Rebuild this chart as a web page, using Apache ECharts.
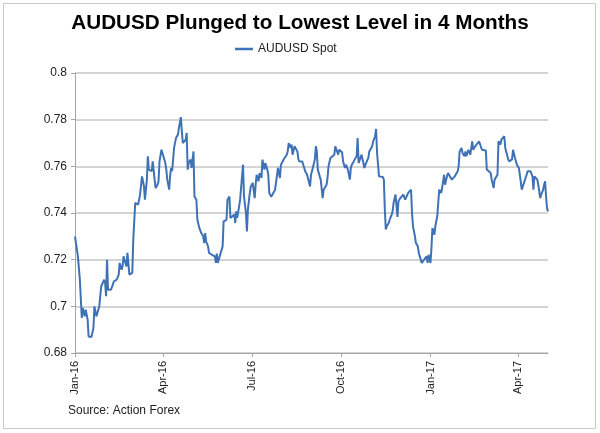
<!DOCTYPE html>
<html>
<head>
<meta charset="utf-8">
<script src="https://cdn.jsdelivr.net/npm/echarts@6/dist/echarts.min.js"></script>
<style>
html,body{margin:0;padding:0;background:#fff;}
#c{width:600px;height:433px;}
</style>
</head>
<body>
<div id="c"></div>
<script>
var dates = [
'2016-01-01','2016-01-04','2016-01-06','2016-01-08','2016-01-09','2016-01-11','2016-01-12','2016-01-14','2016-01-15','2016-01-17',
'2016-01-18','2016-01-20','2016-01-21','2016-01-23','2016-01-24','2016-01-26','2016-01-28','2016-01-29','2016-01-31',
'2016-02-01','2016-02-02','2016-02-03','2016-02-04','2016-02-06','2016-02-07','2016-02-09','2016-02-10','2016-02-11','2016-02-13',
'2016-02-14','2016-02-15','2016-02-16','2016-02-18','2016-02-19','2016-02-20','2016-02-22','2016-02-23','2016-02-24','2016-02-25',
'2016-02-26','2016-02-28','2016-02-29',
'2016-03-01','2016-03-03','2016-03-05','2016-03-06','2016-03-08','2016-03-10','2016-03-12','2016-03-13','2016-03-15','2016-03-16',
'2016-03-17','2016-03-19','2016-03-20','2016-03-21','2016-03-23','2016-03-24','2016-03-26','2016-03-27','2016-03-28','2016-03-30','2016-03-31',
'2016-04-01','2016-04-03','2016-04-04','2016-04-05','2016-04-07','2016-04-08','2016-04-09','2016-04-10','2016-04-12','2016-04-13',
'2016-04-14','2016-04-16','2016-04-17','2016-04-19','2016-04-20','2016-04-21','2016-04-23','2016-04-24','2016-04-25','2016-04-26',
'2016-04-27','2016-04-29','2016-04-30',
'2016-05-02','2016-05-03','2016-05-04','2016-05-05','2016-05-06','2016-05-08','2016-05-09','2016-05-10','2016-05-12','2016-05-13',
'2016-05-14','2016-05-15','2016-05-17','2016-05-18','2016-05-20','2016-05-21','2016-05-24','2016-05-25','2016-05-26','2016-05-27',
'2016-05-29','2016-05-30',
'2016-06-01','2016-06-02','2016-06-05','2016-06-06','2016-06-08','2016-06-09','2016-06-10','2016-06-13','2016-06-14','2016-06-15',
'2016-06-16','2016-06-18','2016-06-19','2016-06-21','2016-06-22','2016-06-23','2016-06-25','2016-06-26','2016-06-27','2016-06-29','2016-06-30',
'2016-07-02','2016-07-03','2016-07-04','2016-07-05','2016-07-06','2016-07-08','2016-07-09','2016-07-11','2016-07-12','2016-07-14',
'2016-07-15','2016-07-17','2016-07-18','2016-07-19','2016-07-21','2016-07-22','2016-07-23','2016-07-25','2016-07-26','2016-07-28',
'2016-07-30','2016-07-31',
'2016-08-01','2016-08-03','2016-08-04','2016-08-06','2016-08-07','2016-08-08','2016-08-10','2016-08-11','2016-08-12','2016-08-14',
'2016-08-15','2016-08-17','2016-08-18','2016-08-19','2016-08-22','2016-08-23','2016-08-25','2016-08-26','2016-08-27','2016-08-29',
'2016-08-30','2016-08-31',
'2016-09-01','2016-09-04','2016-09-05','2016-09-06','2016-09-07','2016-09-09','2016-09-10','2016-09-12','2016-09-13','2016-09-14',
'2016-09-16','2016-09-17','2016-09-18','2016-09-20','2016-09-21','2016-09-24','2016-09-25','2016-09-27','2016-09-28','2016-09-29',
'2016-10-01','2016-10-02','2016-10-03','2016-10-05','2016-10-06','2016-10-08','2016-10-10','2016-10-11','2016-10-12','2016-10-14',
'2016-10-15','2016-10-17','2016-10-18','2016-10-19','2016-10-21','2016-10-22','2016-10-25','2016-10-26','2016-10-29','2016-10-30',
'2016-11-01','2016-11-02','2016-11-03','2016-11-05','2016-11-06','2016-11-07','2016-11-09','2016-11-10','2016-11-13','2016-11-14',
'2016-11-15','2016-11-16','2016-11-17','2016-11-19','2016-11-20','2016-11-22','2016-11-23','2016-11-24','2016-11-26','2016-11-27',
'2016-11-28','2016-11-29',
'2016-12-01','2016-12-02','2016-12-04','2016-12-06','2016-12-09','2016-12-10','2016-12-12','2016-12-13','2016-12-14','2016-12-16',
'2016-12-17','2016-12-19','2016-12-20','2016-12-21','2016-12-23','2016-12-25','2016-12-28','2016-12-29','2016-12-30',
'2017-01-01','2017-01-02','2017-01-03','2017-01-05','2017-01-06','2017-01-08','2017-01-09','2017-01-10','2017-01-12','2017-01-13',
'2017-01-15','2017-01-16','2017-01-18','2017-01-19','2017-01-20','2017-01-23','2017-01-25','2017-01-26','2017-01-27','2017-01-29',
'2017-01-30','2017-01-31',
'2017-02-02','2017-02-03','2017-02-05','2017-02-06','2017-02-07','2017-02-09','2017-02-11','2017-02-13','2017-02-14','2017-02-16',
'2017-02-18','2017-02-20','2017-02-22','2017-02-23','2017-02-25','2017-02-27','2017-02-28',
'2017-03-01','2017-03-04','2017-03-05','2017-03-07','2017-03-08','2017-03-10','2017-03-11','2017-03-12','2017-03-14','2017-03-15',
'2017-03-18','2017-03-19','2017-03-21','2017-03-22','2017-03-23','2017-03-26','2017-03-27','2017-03-29','2017-03-30','2017-03-31',
'2017-04-02','2017-04-03','2017-04-05','2017-04-06','2017-04-07','2017-04-10','2017-04-11','2017-04-13','2017-04-14','2017-04-16',
'2017-04-17','2017-04-18','2017-04-20','2017-04-21','2017-04-22','2017-04-24','2017-04-25','2017-04-27','2017-04-28','2017-04-29',
'2017-04-30','2017-05-01','2017-05-02'
];
var spot = [
0.7300,0.7214,0.7114,0.6950,0.6993,0.6957,0.6986,0.6943,0.6871,0.6864,
0.6869,0.6907,0.7000,0.6957,0.6957,0.7000,0.7086,0.7086,0.7114,
0.7100,0.7043,0.7200,0.7071,0.7079,0.7071,0.7093,0.7107,0.7107,0.7114,
0.7107,0.7136,0.7186,0.7157,0.7171,0.7214,0.7221,0.7171,0.7229,0.7233,
0.7136,0.7140,0.7143,
0.7286,0.7443,0.7450,0.7436,0.7479,0.7557,0.7514,0.7457,0.7543,0.7643,
0.7586,0.7593,0.7579,0.7621,0.7543,0.7507,0.7521,0.7536,0.7621,0.7671,0.7664,
0.7643,0.7614,0.7586,0.7543,0.7500,0.7564,0.7593,0.7579,0.7679,0.7686,
0.7721,0.7736,0.7764,0.7811,0.7750,0.7700,0.7700,0.7714,0.7743,0.7586,
0.7614,0.7629,0.7593,
0.7664,0.7471,0.7464,0.7457,0.7371,0.7336,0.7343,0.7314,0.7300,0.7271,
0.7314,0.7279,0.7257,0.7229,0.7226,0.7221,0.7214,0.7186,0.7226,0.7186,
0.7183,0.7229,
0.7257,0.7364,0.7371,0.7457,0.7471,0.7379,0.7386,0.7393,0.7357,0.7407,
0.7379,0.7429,0.7457,0.7457,0.7607,0.7471,0.7400,0.7321,0.7414,0.7486,0.7514,
0.7529,0.7536,0.7464,0.7521,0.7564,0.7536,0.7571,0.7550,0.7629,0.7586,
0.7614,0.7586,0.7564,0.7486,0.7469,0.7464,0.7469,0.7500,0.7500,0.7593,
0.7550,0.7607,
0.7614,0.7630,0.7636,0.7650,0.7664,0.7700,0.7679,0.7693,0.7650,0.7686,
0.7693,0.7664,0.7630,0.7621,0.7621,0.7614,0.7579,0.7571,0.7564,0.7557,
0.7514,0.7564,
0.7579,0.7630,0.7686,0.7664,0.7586,0.7557,0.7543,0.7464,0.7500,0.7493,
0.7521,0.7550,0.7600,0.7636,0.7630,0.7650,0.7686,0.7693,0.7650,0.7671,
0.7664,0.7660,0.7621,0.7593,0.7607,0.7586,0.7543,0.7593,0.7607,0.7621,
0.7630,0.7643,0.7721,0.7614,0.7621,0.7650,0.7593,0.7607,0.7636,0.7664,
0.7671,0.7686,0.7707,0.7729,0.7760,0.7657,0.7557,0.7553,0.7554,0.7543,
0.7414,0.7329,0.7343,0.7357,0.7371,0.7393,0.7407,0.7443,0.7479,0.7471,
0.7383,0.7450,
0.7464,0.7457,0.7479,0.7457,0.7486,0.7493,0.7500,0.7400,0.7343,0.7300,
0.7271,0.7257,0.7229,0.7214,0.7186,0.7186,0.7214,0.7186,0.7221,
0.7186,0.7250,0.7336,0.7307,0.7343,0.7386,0.7443,0.7500,0.7486,0.7507,
0.7564,0.7521,0.7557,0.7571,0.7579,0.7543,0.7550,0.7557,0.7564,0.7579,
0.7600,0.7664,
0.7679,0.7657,0.7643,0.7664,0.7643,0.7671,0.7650,0.7707,0.7671,0.7686,
0.7693,0.7707,0.7707,0.7671,0.7671,0.7668,0.7586,
0.7579,0.7571,0.7543,0.7507,0.7543,0.7550,0.7564,0.7707,0.7693,0.7714,
0.7729,0.7679,0.7671,0.7630,0.7621,0.7630,0.7671,0.7636,0.7630,0.7607,
0.7593,0.7564,0.7500,0.7500,0.7503,0.7564,0.7579,0.7586,0.7579,0.7557,
0.7500,0.7557,0.7564,0.7543,0.7521,0.7464,0.7479,0.7500,0.7521,0.7536,
0.7471,0.7421,0.7407
];
var tickDates = ['2016-01-01','2016-04-01','2016-07-01','2016-10-01','2017-01-01','2017-04-01'];
var tickLabels = ['Jan-16','Apr-16','Jul-16','Oct-16','Jan-17','Apr-17'];
var axisStart = '2016-01-01';
var axisEnd = '2017-05-02';

function ts(s){ var p = s.split('-'); return Date.UTC(+p[0], +p[1]-1, +p[2]); }
var tickTs = tickDates.map(ts);
var seriesData = dates.map(function(d, i){ return [ts(d), spot[i]]; });

var chart = echarts.init(document.getElementById('c'), null, {renderer:'canvas'});
var font = 'Liberation Sans, Arial, sans-serif';
chart.setOption({
  animation: false,
  backgroundColor: '#fff',
  title: {
    text: 'AUDUSD Plunged to Lowest Level in 4 Months',
    left: 'center', top: 8,
    textStyle: {fontFamily: font, fontSize: 20.7, fontWeight: 'bold', color: '#000'}
  },
  legend: {
    data: ['AUDUSD Spot'], left: 230, top: 38,
    icon: 'rect', itemWidth: 18, itemHeight: 2.5, itemGap: 4,
    textStyle: {fontFamily: font, fontSize: 12, color: '#222'}
  },
  grid: {left: 75, right: 52, top: 73, bottom: 80, containLabel: false},
  xAxis: {
    type: 'value',
    min: ts(axisStart), max: ts(axisEnd),
    axisLine: {show: true, lineStyle: {color: '#a6a6a6', width: 1}},
    axisTick: {show: true, customValues: tickTs, length: 4, lineStyle: {color: '#a6a6a6'}},
    splitLine: {show: false},
    axisLabel: {
      customValues: tickTs, rotate: 90, margin: 8,
      fontFamily: font, fontSize: 11, color: '#222',
      formatter: function(v){ var i = tickTs.indexOf(v); return i >= 0 ? tickLabels[i] : ''; }
    }
  },
  yAxis: {
    type: 'value', min: 0.68, max: 0.8, interval: 0.02,
    axisLine: {show: true, lineStyle: {color: '#a6a6a6', width: 1}},
    axisTick: {show: true, length: 4, lineStyle: {color: '#a6a6a6'}},
    splitLine: {show: true, lineStyle: {color: '#c6c6c6', width: 1.5}},
    axisLabel: {fontFamily: font, fontSize: 12, color: '#222', margin: 8}
  },
  graphic: [
    {type: 'rect', shape: {x: 3.5, y: 3.5, width: 592, height: 425}, style: {fill: 'none', stroke: '#c8c8c8', lineWidth: 1}, silent: true},
    {type: 'text', left: 68, top: 405, style: {text: 'Source: Action Forex', fontFamily: font, fontSize: 12, fill: '#222'}}
  ],
  series: [{
    name: 'AUDUSD Spot', type: 'line', data: seriesData,
    symbol: 'none', showSymbol: false,
    lineStyle: {color: '#3f72b5', width: 2},
    itemStyle: {color: '#3f72b5'}
  }]
});
</script>
</body>
</html>
